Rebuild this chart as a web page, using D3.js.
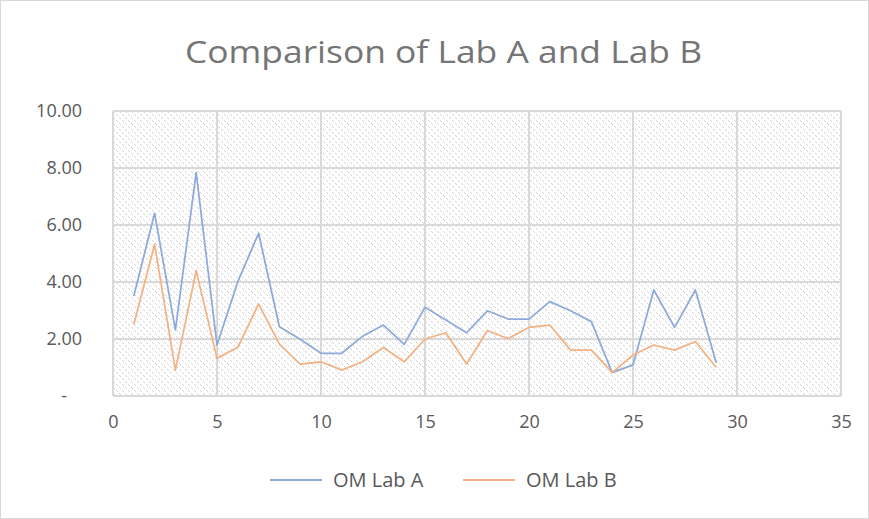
<!DOCTYPE html>
<html>
<head>
<meta charset="utf-8">
<script src="https://cdn.jsdelivr.net/npm/d3@7"></script>
<style>
  body { margin: 0; background: #fff; }
  svg { display: block; font-family: "Open Sans", Lato, sans-serif; }
</style>
</head>
<body>
<svg id="chart" width="869" height="519"></svg>
<script>
// Donnees
var sample = d3.range(1, 30);
var labA = [3.51, 6.41, 2.32, 7.84, 1.79, 4.01, 5.71, 2.43, 1.99, 1.50,
            1.50, 2.10, 2.49, 1.81, 3.11, 2.67, 2.22, 2.99, 2.70, 2.70,
            3.31, 2.99, 2.61, 0.82, 1.09, 3.72, 2.41, 3.72, 1.17];
var labB = [2.51, 5.32, 0.91, 4.40, 1.32, 1.71, 3.23, 1.82, 1.12, 1.20,
            0.91, 1.20, 1.70, 1.20, 2.00, 2.22, 1.12, 2.30, 2.01, 2.41,
            2.49, 1.61, 1.61, 0.82, 1.44, 1.79, 1.61, 1.91, 1.01];
var xTicks = [0, 5, 10, 15, 20, 25, 30, 35];
var yTicks = [0, 2, 4, 6, 8, 10];
var seriesNames = ["OM Lab A", "OM Lab B"];

var svg = d3.select("#chart");
var textColor = "#595959";
var gridColor = "#d9d9d9";

// cadre du graphique
svg.append("rect")
  .attr("x", 0.5).attr("y", 0.5)
  .attr("width", 868).attr("height", 518)
  .attr("fill", "#fff")
  .attr("stroke", gridColor);

// motif hachure (diagonale en pointilles)
var pat = svg.append("defs").append("pattern")
  .attr("id", "hatch")
  .attr("patternUnits", "userSpaceOnUse")
  .attr("width", 6).attr("height", 6);
[[0, 0], [1, 1], [3, 3], [4, 4]].forEach(function(p) {
  pat.append("rect")
    .attr("x", p[0]).attr("y", p[1])
    .attr("width", 1).attr("height", 1)
    .attr("fill", "#d4d4d4")
    .attr("shape-rendering", "crispEdges");
});

var margin = { top: 111, left: 113, right: 28, bottom: 123 };
var width = 869 - margin.left - margin.right,
    height = 519 - margin.top - margin.bottom;

var g = svg.append("g")
  .attr("transform", "translate(" + margin.left + "," + margin.top + ")");

var x = d3.scaleLinear().domain([0, 35]).range([0, width]);
var y = d3.scaleLinear().domain([0, 10]).range([height, 0]);

g.append("rect")
  .attr("width", width).attr("height", height)
  .attr("fill", "url(#hatch)");

// quadrillage
g.selectAll(".hgrid").data(yTicks).enter().append("line")
  .attr("x1", 0).attr("x2", width)
  .attr("y1", function(d) { return y(d); })
  .attr("y2", function(d) { return y(d); })
  .attr("stroke", gridColor).attr("stroke-width", 2);
g.selectAll(".vgrid").data(xTicks).enter().append("line")
  .attr("y1", 0).attr("y2", height)
  .attr("x1", function(d) { return x(d); })
  .attr("x2", function(d) { return x(d); })
  .attr("stroke", gridColor).attr("stroke-width", 2);

// axes
var yAxis = g.append("g")
  .attr("transform", "translate(-28,0)")
  .call(d3.axisLeft(y).tickValues(yTicks).tickSize(0)
    .tickFormat(function(d) { return d === 0 ? "-" : d3.format(".2f")(d); }));
var xAxis = g.append("g")
  .attr("transform", "translate(0," + (height + 16) + ")")
  .call(d3.axisBottom(x).tickValues(xTicks).tickSize(0));
[xAxis, yAxis].forEach(function(a) {
  a.select(".domain").remove();
  a.selectAll("text")
    .attr("fill", textColor)
    .style("font-family", "'Open Sans', sans-serif")
    .style("font-size", "18px");
});
yAxis.selectAll("text").filter(function(d) { return d === 0; })
  .attr("dx", "-15px");

// courbes
var colors = ["#8eaadb", "#f4b183"];
[labA, labB].forEach(function(vals, i) {
  g.append("path")
    .datum(vals)
    .attr("fill", "none")
    .attr("stroke", colors[i])
    .attr("stroke-width", 1.75)
    .attr("stroke-linejoin", "round")
    .attr("d", d3.line()
      .x(function(d, j) { return x(sample[j]); })
      .y(function(d) { return y(d); }));
});

// titre
svg.append("text")
  .attr("x", 443.5).attr("y", 63)
  .attr("text-anchor", "middle")
  .attr("fill", "#757575")
  .style("font-size", "31px")
  .attr("textLength", 517)
  .attr("lengthAdjust", "spacingAndGlyphs")
  .text("Comparison of Lab A and Lab B");

// legende
var legX = [270, 463];
seriesNames.forEach(function(name, i) {
  svg.append("line")
    .attr("x1", legX[i]).attr("x2", legX[i] + 52)
    .attr("y1", 480).attr("y2", 480)
    .attr("stroke", colors[i]).attr("stroke-width", 2);
  svg.append("text")
    .attr("x", legX[i] + 63).attr("y", 487)
    .attr("fill", textColor)
    .style("font-size", "20px")
    .text(name);
});
</script>
</body>
</html>
